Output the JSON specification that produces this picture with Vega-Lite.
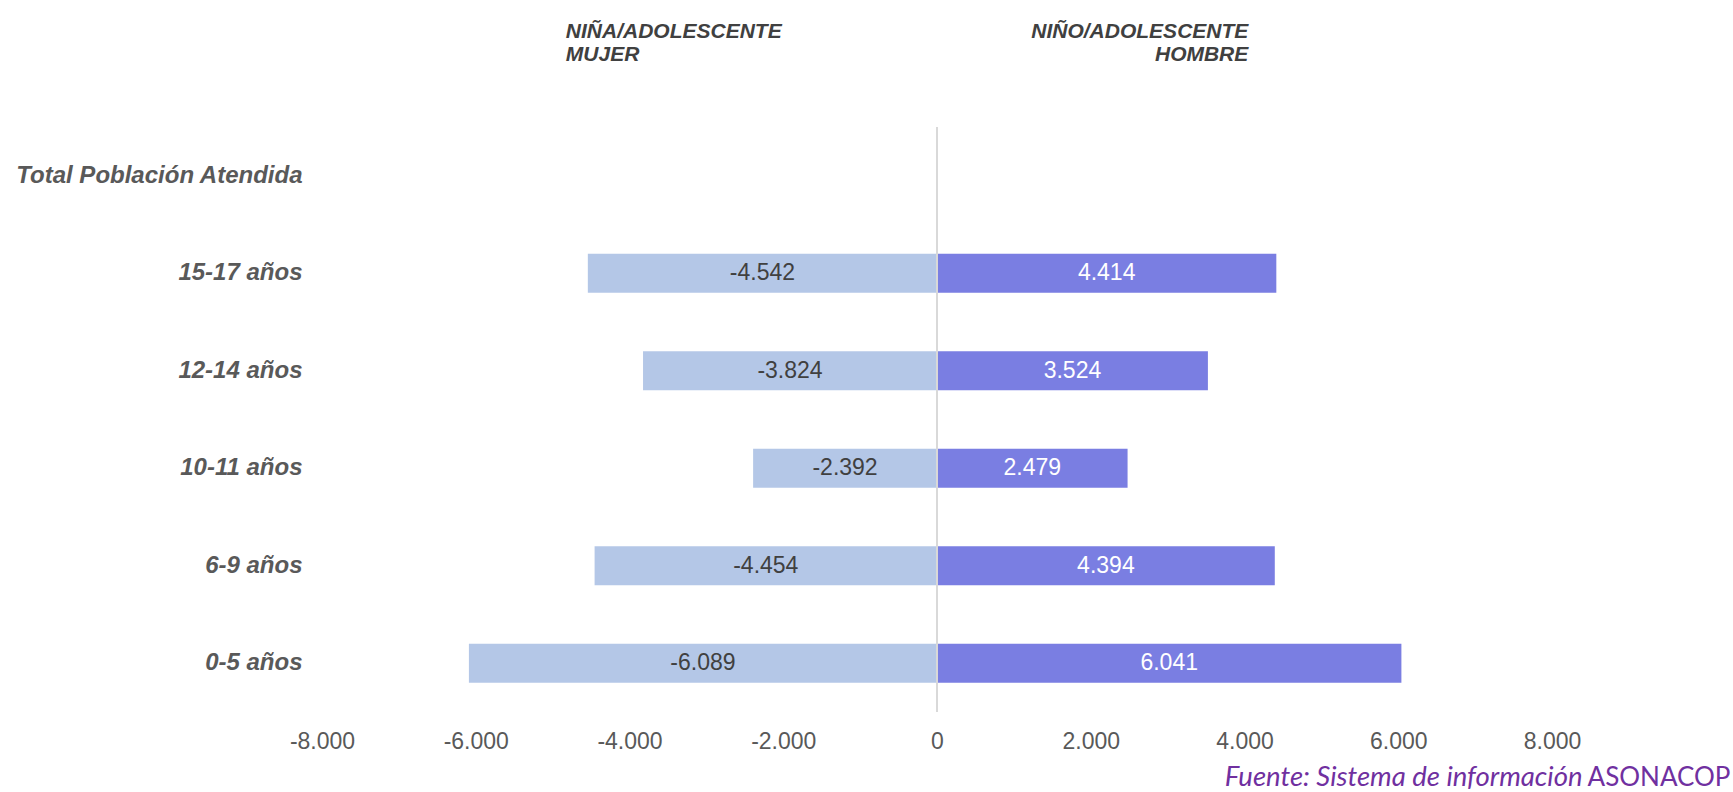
{
  "$schema": "https://vega.github.io/schema/vega-lite/v6.json",
  "width": 1230,
  "height": 585,
  "autosize": {"type": "none"},
  "padding": {"left": 322, "top": 127, "right": 181, "bottom": 80},
  "background": "white",
  "config": {
    "view": {"stroke": null},
    "locale": {"number": {"decimal": ",", "thousands": ".", "grouping": [3], "currency": ["", ""], "minus": "-"}}
  },
  "data": {
    "values": [
      {"grupo": "15-17 años", "sexo": "Mujer", "valor": -4542},
      {"grupo": "15-17 años", "sexo": "Hombre", "valor": 4414},
      {"grupo": "12-14 años", "sexo": "Mujer", "valor": -3824},
      {"grupo": "12-14 años", "sexo": "Hombre", "valor": 3524},
      {"grupo": "10-11 años", "sexo": "Mujer", "valor": -2392},
      {"grupo": "10-11 años", "sexo": "Hombre", "valor": 2479},
      {"grupo": "6-9 años", "sexo": "Mujer", "valor": -4454},
      {"grupo": "6-9 años", "sexo": "Hombre", "valor": 4394},
      {"grupo": "0-5 años", "sexo": "Mujer", "valor": -6089},
      {"grupo": "0-5 años", "sexo": "Hombre", "valor": 6041}
    ]
  },
  "layer": [
    {
      "mark": {"type": "bar"},
      "encoding": {
        "y": {
          "field": "grupo",
          "type": "nominal",
          "scale": {
            "domain": ["Total Población Atendida", "15-17 años", "12-14 años", "10-11 años", "6-9 años", "0-5 años"],
            "paddingInner": 0.6,
            "paddingOuter": 0.3
          },
          "axis": {
            "title": "ASONACOP",
            "titleAngle": 0,
            "titleX": 1408,
            "titleY": 658,
            "titleAlign": "right",
            "titleBaseline": "alphabetic",
            "titleFont": "Lato",
            "titleFontSize": 26,
            "titleFontWeight": "normal",
            "titleColor": "#7030A0",
            "labelFont": "Liberation Sans",
            "labelFontSize": 24,
            "labelFontWeight": "bold",
            "labelFontStyle": "italic",
            "labelColor": "#595959",
            "labelPadding": 20,
            "labelLimit": 400,
            "ticks": false,
            "tickSize": 0,
            "domain": false,
            "grid": false
          }
        },
        "x": {
          "field": "valor",
          "type": "quantitative",
          "scale": {"domain": [-8000, 8000], "nice": false},
          "axis": {
            "values": [-8000, -6000, -4000, -2000, 0, 2000, 4000, 6000, 8000],
            "format": ",d",
            "labelFont": "Liberation Sans",
            "labelFontSize": 23,
            "labelColor": "#595959",
            "labelPadding": 29,
            "labelBaseline": "middle",
            "labelFlush": false,
            "labelOverlap": false,
            "ticks": false,
            "tickSize": 0,
            "domain": false,
            "grid": false,
            "title": "Fuente: Sistema de información",
            "titleFont": "Lato",
            "titleFontSize": 27.5,
            "titleFontStyle": "italic",
            "titleFontWeight": "normal",
            "titleColor": "#7030A0",
            "titleAlign": "right",
            "titleBaseline": "alphabetic",
            "titleX": 1260,
            "titleY": 73
          }
        },
        "color": {
          "field": "sexo",
          "type": "nominal",
          "scale": {"domain": ["Mujer", "Hombre"], "range": ["#B4C7E7", "#7A7EE2"]},
          "legend": null
        }
      }
    },
    {
      "mark": {"type": "rule", "color": "#D9D9D9", "strokeWidth": 1.5},
      "encoding": {
        "x": {"datum": 0, "type": "quantitative", "scale": {"domain": [-8000, 8000], "nice": false}, "axis": null}
      }
    },
    {
      "mark": {"type": "text", "font": "Liberation Sans", "fontSize": 23, "align": "center", "baseline": "middle"},
      "encoding": {
        "y": {"field": "grupo", "type": "nominal"},
        "x": {
          "field": "valor",
          "type": "quantitative",
          "scale": {"domain": [-16000, 16000], "nice": false},
          "axis": {
            "orient": "top",
            "values": [-9670, 8086],
            "labelExpr": "datum.value < 0 ? ['NIÑA/ADOLESCENTE', 'MUJER'] : ['NIÑO/ADOLESCENTE', 'HOMBRE']",
            "labelAlign": {"condition": {"test": "datum.value < 0", "value": "left"}, "value": "right"},
            "labelBaseline": "alphabetic",
            "labelPadding": 90,
            "labelFont": "Liberation Sans",
            "labelFontSize": 21,
            "labelFontWeight": "bold",
            "labelFontStyle": "italic",
            "labelColor": "#404040",
            "labelLineHeight": 23.5,
            "labelLimit": 0,
            "labelFlush": false,
            "labelOverlap": false,
            "labelBound": false,
            "ticks": false,
            "tickSize": 0,
            "domain": false,
            "grid": false,
            "title": null
          }
        },
        "text": {"field": "valor", "type": "quantitative", "format": ",d"},
        "color": {"condition": {"test": "datum.sexo === 'Hombre'", "value": "#FFFFFF"}, "value": "#404040"}
      }
    }
  ],
  "resolve": {"scale": {"x": "independent"}}
}
